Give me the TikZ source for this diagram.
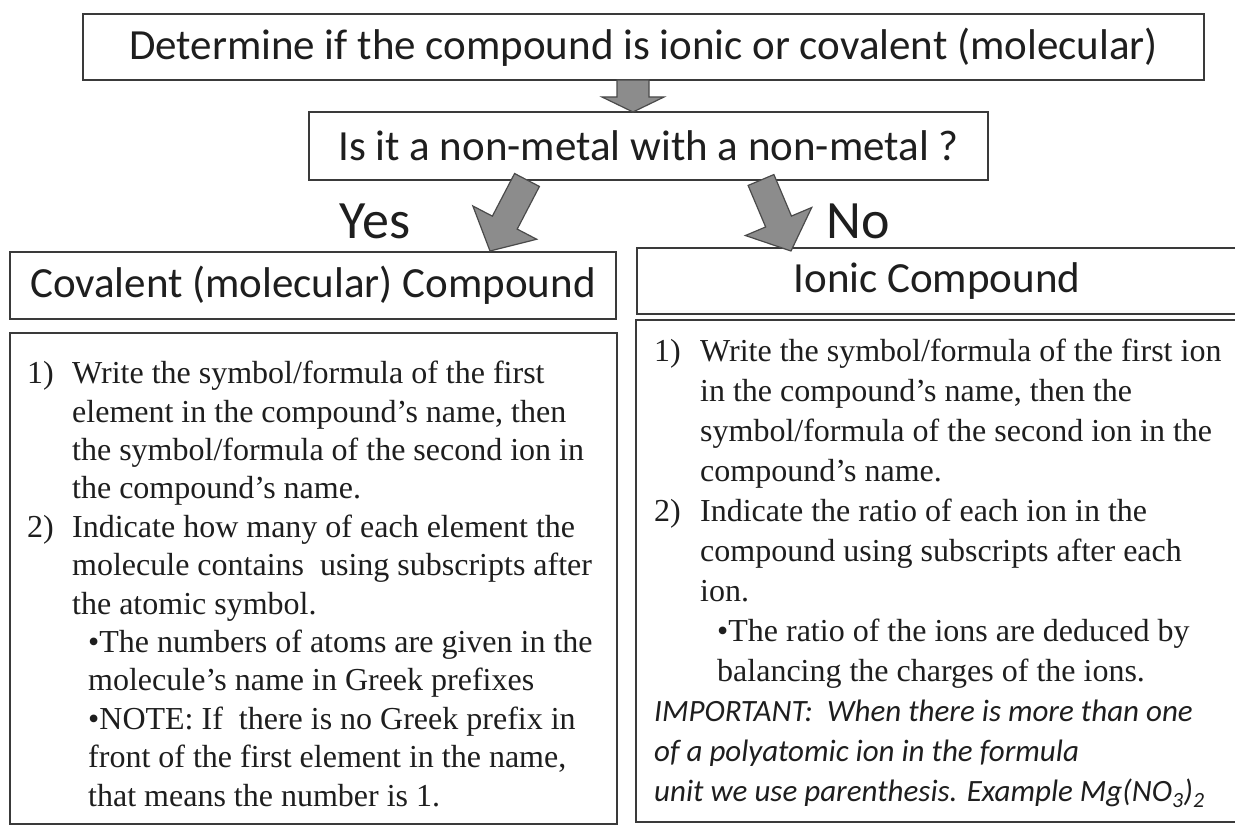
\documentclass[tikz,border=0pt]{standalone}
\usepackage{fontspec}
\setmainfont{Liberation Serif}
\newfontfamily\calfont{Carlito}
\usetikzlibrary{calc}
\definecolor{linec}{HTML}{3A3A3A}
\definecolor{txt}{HTML}{1E1E1E}
\definecolor{arrowfill}{HTML}{8C8C8C}
\definecolor{arrowline}{HTML}{4A4A4A}
\newcommand\blockarr[5]{%
  \path ($(#2)!#5!(#1)$) coordinate (bah);
  \draw[blockarrow] ($(#1)!#3!90:(#2)$) -- ($(bah)!#3!90:(#2)$) -- ($(bah)!#4!90:(#2)$)
    -- (#2) -- ($(bah)!#4!-90:(#2)$) -- ($(bah)!#3!-90:(#2)$) -- ($(#1)!#3!-90:(#2)$) -- cycle;}
\newcommand\impfont{\calfont\itshape\fontsize{31}{40}\selectfont}
\begin{document}
\begin{tikzpicture}[x=1pt,y=-1pt,
  box/.style={draw=linec, line width=1.6pt, rectangle, inner sep=0pt, text=txt,
    font=\calfont\fontsize{43}{50}\selectfont},
  blockarrow/.style={fill=arrowfill, draw=arrowline, line width=1.2pt, line join=miter},
  body/.style={anchor=north west, inner sep=0pt, align=left, text=txt},
  bigword/.style={inner sep=0pt, text=txt, font=\calfont\fontsize{54}{60}\selectfont}]
\useasboundingbox (0,0) rectangle (1235,826);
\fill[white] (0,0) rectangle (1235,826);
% boxes
\node[box, minimum width=1121pt, minimum height=66pt] (det) at (643.5,47)
  {Determine if the compound is ionic or covalent (molecular)};
\node[box, minimum width=679pt, minimum height=68pt] (q) at (648.5,146)
  {Is it a non-metal with a non-metal ?};
\node[box, minimum width=606pt, minimum height=67pt] (cov) at (313,285.5)
  {Covalent (molecular) Compound};
\node[box, minimum width=608pt, minimum height=66pt] (ion) at (941,281)
  {\hspace*{-8pt}Ionic Compound};
\node[box, minimum width=607pt, minimum height=491pt] (covbody) at (313.5,578.5) {};
\node[box, minimum width=609pt, minimum height=502pt] (ionbody) at (940.5,571) {};
% arrows
\coordinate (a0s) at (633,80);
\coordinate (a0e) at (633,112);
\blockarr{a0s}{a0e}{16pt}{31pt}{15pt}
\coordinate (ays) at (527,180);
\coordinate (aye) at (490,251);
\blockarr{ays}{aye}{14pt}{36pt}{32pt}
\coordinate (ans) at (761,180);
\coordinate (ane) at (791,251);
\blockarr{ans}{ane}{14pt}{36pt}{32pt}
% labels
\node[bigword] (yes) at (375,221) {Yes};
\node[bigword] (no) at (858,221) {No};
% body texts
\node[body, font=\fontsize{32}{38.4}\selectfont] (covtext) at (27,361)
  {\makebox[45pt][l]{1)}Write the symbol/formula of the first\\
   \hspace*{45pt}element in the compound’s name, then\\
   \hspace*{45pt}the symbol/formula of the second ion in\\
   \hspace*{45pt}the compound’s name.\\
   \makebox[45pt][l]{2)}Indicate how many of each element the\\
   \hspace*{45pt}molecule contains\ \ using subscripts after\\
   \hspace*{45pt}the atomic symbol.\\
   \hspace*{61pt}•The numbers of atoms are given in the\\
   \hspace*{61pt}molecule’s name in Greek prefixes\\
   \hspace*{61pt}•NOTE: If\ \ there is no Greek prefix in\\
   \hspace*{61pt}front of the first element in the name,\\
   \hspace*{61pt}that means the number is 1.};
\node[body, font=\fontsize{32}{40}\selectfont] (iontext) at (654,339)
  {\makebox[46pt][l]{1)}Write the symbol/formula of the first ion\\
   \hspace*{46pt}in the compound’s name, then the\\
   \hspace*{46pt}symbol/formula of the second ion in the\\
   \hspace*{46pt}compound’s name.\\
   \makebox[46pt][l]{2)}Indicate the ratio of each ion in the\\
   \hspace*{46pt}compound using subscripts after each\\
   \hspace*{46pt}ion.\\
   \hspace*{63pt}•The ratio of the ions are deduced by\\
   \hspace*{63pt}balancing the charges of the ions.\\
   {\impfont IMPORTANT:\ \ When there is more than one}\\
   {\impfont of a polyatomic ion in the formula}\\
   {\impfont unit we use parenthesis. Example Mg(NO\textsubscript{3})\textsubscript{2}}};
\end{tikzpicture}
\end{document}
